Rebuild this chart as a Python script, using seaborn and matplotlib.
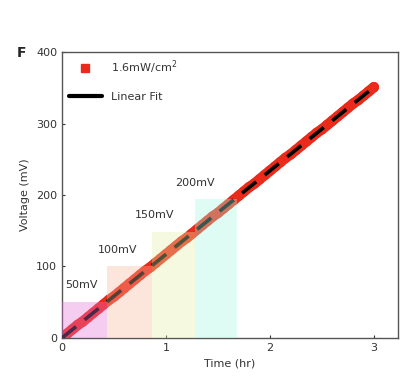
import numpy as np
import pandas as pd
import seaborn as sns
import matplotlib.pyplot as plt
from matplotlib.lines import Line2D

# measured data (time in hr, voltage in mV)
time_hr = [0.00, 0.05, 0.10, 0.15, 0.20, 0.25, 0.30, 0.35, 0.40, 0.45,
           0.50, 0.55, 0.60, 0.65, 0.70, 0.75, 0.80, 0.85, 0.90, 0.95,
           1.00, 1.05, 1.10, 1.15, 1.20, 1.25, 1.30, 1.35, 1.40, 1.45,
           1.50, 1.55, 1.60, 1.65, 1.70, 1.75, 1.80, 1.85, 1.90, 1.95,
           2.00, 2.05, 2.10, 2.15, 2.20, 2.25, 2.30, 2.35, 2.40, 2.45,
           2.50, 2.55, 2.60, 2.65, 2.70, 2.75, 2.80, 2.85, 2.90, 2.95,
           3.00]
voltage_mv = [0, 6, 12, 18, 23, 29, 35, 41, 47, 53,
              58, 64, 70, 76, 82, 88, 94, 99, 105, 111,
              117, 123, 129, 135, 140, 146, 152, 158, 164, 170,
              175, 181, 187, 193, 199, 205, 211, 216, 222, 228,
              234, 240, 246, 252, 257, 263, 269, 275, 281, 287,
              292, 298, 304, 310, 316, 322, 328, 333, 339, 345,
              351]

# shaded threshold regions
region_labels = ["50mV", "100mV", "150mV", "200mV"]
region_start = [0.0, 0.43, 0.87, 1.28]
region_width = [0.43, 0.44, 0.41, 0.40]
region_height = [50, 100, 148, 195]
region_colors = ["#e570d4", "#f9b89b", "#e2eea6", "#a1f9dd"]

df = pd.DataFrame({"Time": time_hr, "Voltage": voltage_mv})

sns.set_style("ticks")
plt.rcParams['font.family'] = ['DejaVu Sans']

fig = plt.figure(figsize=(4.08, 3.92), dpi=100)
ax = fig.add_axes([0.152, 0.138, 0.823, 0.729])

red = "#ea2a1a"
# dense points -> continuous band
sns.lineplot(data=df, x="Time", y="Voltage", color=red, lw=7.5,
             solid_capstyle="round", ax=ax, zorder=1, legend=False)
sns.scatterplot(data=df, x="Time", y="Voltage", marker="o", s=55,
                color=red, edgecolor="none", ax=ax, zorder=2, legend=False)
sns.regplot(data=df, x="Time", y="Voltage", scatter=False, ci=None, ax=ax,
            line_kws=dict(color="black", lw=2.6, ls=(0, (5, 3)), zorder=3))

# pastel boxes on top of the trace
ax.bar(region_start, region_height, width=region_width, align="edge",
       color=region_colors, alpha=0.35, edgecolor="none", zorder=4)

label_pos = [(0.03, 74), (0.34, 123), (0.70, 172), (1.09, 217)]
for lab, (lx, ly) in zip(region_labels, label_pos):
    ax.text(lx, ly, lab, fontsize=8, color="#333333", va="center")

ax.set_xlim(0, 3.23)
ax.set_ylim(0, 400)
ax.set_xticks([0, 1, 2, 3])
ax.set_yticks([0, 100, 200, 300, 400])
ax.tick_params(direction="in", length=2.5, labelsize=8, colors="#333333")
ax.set_xlabel("Time (hr)", fontsize=8, color="#333333")
ax.set_ylabel("Voltage (mV)", fontsize=8, color="#333333")
for sp in ax.spines.values():
    sp.set_color("#555555")
    sp.set_linewidth(1.0)

handles = [Line2D([], [], marker="s", color=red, ls="none", markersize=6),
           Line2D([], [], color="black", lw=3)]
ax.legend(handles, ["1.6mW/cm$^2$", "Linear Fit"], loc="upper left",
          frameon=False, fontsize=8, handlelength=3.0, borderaxespad=0.2,
          labelspacing=1.4, labelcolor="#333333")

fig.text(0.04, 0.855, "F", fontsize=10, fontweight="bold")

fig.savefig("out.png", dpi=100)
